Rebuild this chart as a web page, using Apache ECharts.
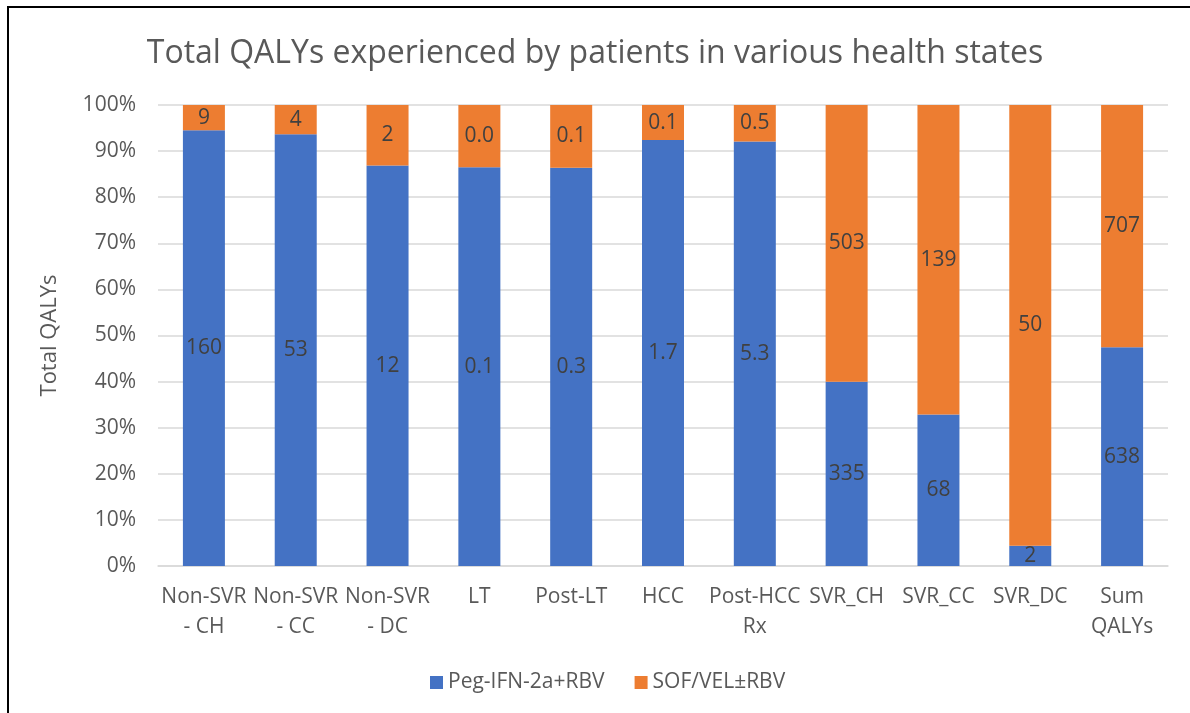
<!DOCTYPE html>
<html>
<head>
<meta charset="utf-8">
<script src="https://cdn.jsdelivr.net/npm/echarts@6/dist/echarts.min.js"></script>
<style>
html,body{margin:0;padding:0;background:#fff;}
#c{width:1190px;height:713px;}
#frame{position:absolute;left:7px;top:6px;width:1200px;height:720px;border-left:2px solid #000;border-top:2px solid #000;pointer-events:none;}
</style>
</head>
<body>
<div id="c"></div>
<div id="frame"></div>
<script>
const categories = ["Non-SVR\n- CH","Non-SVR\n- CC","Non-SVR\n- DC","LT","Post-LT","HCC","Post-HCC\nRx","SVR_CH","SVR_CC","SVR_DC","Sum\nQALYs"];
const pegValues = [160, 53, 11.9, 0.1, 0.33, 1.7, 5.34, 335, 68, 2.3, 638];
const sofValues = [9.3, 3.6, 1.8, 0.0156, 0.052, 0.14, 0.46, 503, 139, 50, 707];
const labelDecimals = [0,0,0,1,1,1,1,0,0,0,0];
const yTicks = [0,10,20,30,40,50,60,70,80,90,100];
const seriesNames = ["Peg-IFN-2a+RBV","SOF/VEL±RBV"];

const totals = pegValues.map((v,i)=>v+sofValues[i]);
const pegShare = pegValues.map((v,i)=>v/totals[i]*100);
const sofShare = sofValues.map((v,i)=>v/totals[i]*100);
const raw = [pegValues, sofValues];

const font = "'Open Sans', 'Noto Sans', sans-serif";
const chart = echarts.init(document.getElementById('c'));
function labelFmt(s){
  return function(p){ return raw[s][p.dataIndex].toFixed(labelDecimals[p.dataIndex]); };
}
chart.setOption({
  animation:false,
  textStyle:{fontFamily:font},
  title:{
    text:"Total QALYs experienced by patients in various health states",
    left:'center', top:33,
    textStyle:{fontFamily:font,fontSize:32,fontWeight:'normal',color:'#595959'}
  },
  legend:{
    top:667, left:425,
    itemWidth:13,itemHeight:13,itemGap:30,icon:'rect',
    textStyle:{fontFamily:font,fontSize:21,color:'#595959'},
    data:seriesNames
  },
  grid:{left:158,right:22,top:105,bottom:147},
  xAxis:{
    type:'category', data:categories,
    axisLine:{lineStyle:{color:'#D9D9D9',width:1.5}},
    axisTick:{show:false},
    axisLabel:{fontFamily:font,fontSize:21,color:'#595959',lineHeight:30,margin:16,interval:0}
  },
  yAxis:{
    type:'value', min:yTicks[0], max:yTicks[yTicks.length-1], interval:10,
    name:'Total QALYs', nameLocation:'middle', nameGap:97, nameRotate:90,
    nameTextStyle:{fontFamily:font,fontSize:22,color:'#595959'},
    axisLine:{show:false}, axisTick:{show:false},
    axisLabel:{formatter:'{value}%',fontFamily:font,fontSize:21,color:'#595959',margin:22},
    splitLine:{lineStyle:{color:'#D9D9D9',width:1.5}}
  },
  series:[
    {name:seriesNames[0],type:'bar',stack:'s',data:pegShare,barWidth:42,
     itemStyle:{color:'#4472C4'},
     label:{show:true,position:'inside',formatter:labelFmt(0),fontFamily:font,fontSize:21,color:'#404040'}},
    {name:seriesNames[1],type:'bar',stack:'s',data:sofShare,barWidth:42,
     itemStyle:{color:'#ED7D31'},
     label:{show:true,position:'inside',formatter:labelFmt(1),fontFamily:font,fontSize:21,color:'#404040'}}
  ]
});
</script>
</body>
</html>
